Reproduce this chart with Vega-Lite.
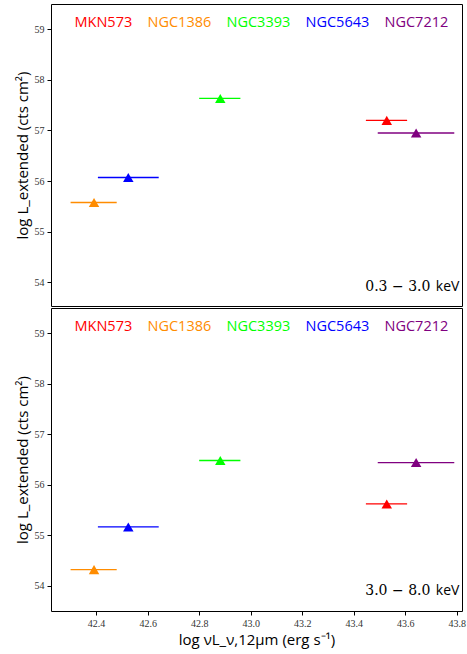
{
  "$schema": "https://vega.github.io/schema/vega-lite/v6.json",
  "padding": {"left": 14, "top": 3, "right": 0, "bottom": 5},
  "background": "white",
  "config": {
    "view": {"stroke": "black", "strokeWidth": 1},
    "axis": {
      "grid": false, "domain": false, "tickColor": "black", "tickSize": 4, "tickWidth": 1,
      "labelFont": "Liberation Serif", "labelFontSize": 10, "labelColor": "#333", "labelPadding": 3,
      "titleFont": "Open Sans", "titleFontSize": 15, "titleFontWeight": "normal", "titleColor": "black"
    },
    "legend": {
      "orient": "none", "direction": "horizontal", "title": null, "padding": 0,
      "symbolSize": 0, "symbolOpacity": 0, "symbolStrokeWidth": 0, "labelOffset": 0,
      "labelFont": "Open Sans", "labelFontSize": 14.5, "columnPadding": -2, "legendX": 9, "legendY": 12
    }
  },
  "datasets": {
    "pts": [
      {"band": "soft", "name": "MKN573", "x": 43.528, "xlo": 43.447, "xhi": 43.607, "y": 57.20},
      {"band": "soft", "name": "NGC1386", "x": 42.392, "xlo": 42.301, "xhi": 42.480, "y": 55.576},
      {"band": "soft", "name": "NGC3393", "x": 42.882, "xlo": 42.800, "xhi": 42.960, "y": 57.633},
      {"band": "soft", "name": "NGC5643", "x": 42.525, "xlo": 42.407, "xhi": 42.643, "y": 56.07},
      {"band": "soft", "name": "NGC7212", "x": 43.642, "xlo": 43.493, "xhi": 43.790, "y": 56.95},
      {"band": "hard", "name": "MKN573", "x": 43.528, "xlo": 43.447, "xhi": 43.607, "y": 55.62},
      {"band": "hard", "name": "NGC1386", "x": 42.392, "xlo": 42.301, "xhi": 42.480, "y": 54.32},
      {"band": "hard", "name": "NGC3393", "x": 42.882, "xlo": 42.800, "xhi": 42.960, "y": 56.48},
      {"band": "hard", "name": "NGC5643", "x": 42.525, "xlo": 42.407, "xhi": 42.643, "y": 55.165},
      {"band": "hard", "name": "NGC7212", "x": 43.642, "xlo": 43.493, "xhi": 43.790, "y": 56.44}
    ],
    "notes": [
      {"band": "soft", "num": "0.3 − 3.0", "unit": "keV"},
      {"band": "hard", "num": "3.0 − 8.0", "unit": "keV"}
    ]
  },
  "spacing": 0,
  "resolve": {"legend": {"color": "independent"}},
  "vconcat": [
    {
      "width": 411, "height": 302,
      "layer": [
        {
          "data": {"name": "pts"},
          "transform": [{"filter": "datum.band == 'soft'"}],
          "mark": {"type": "rule", "strokeWidth": 1.3},
          "encoding": {
            "x": {"field": "xlo", "type": "quantitative", "scale": {"domain": [42.225, 43.82], "nice": false, "zero": false}, "axis": null},
            "x2": {"field": "xhi"},
            "y": {"field": "y", "type": "quantitative", "scale": {"domain": [53.53, 59.5], "nice": false, "zero": false},
                  "axis": {"values": [54, 55, 56, 57, 58, 59], "format": "d", "title": "log L_extended (cts cm²)"}},
            "color": {"field": "name", "type": "nominal",
                      "scale": {"domain": ["MKN573", "NGC1386", "NGC3393", "NGC5643", "NGC7212"], "range": ["#ff0000", "#ff8c00", "#00ff00", "#0000ff", "#800080"]},
                      "legend": {"symbolSize": 0, "encode": {"symbols": {"update": {"size": {"value": 0}, "opacity": {"value": 0}}}, "labels": {"update": {"fill": {"scale": "color", "field": "value"}}}}}}
          }
        },
        {
          "data": {"name": "pts"},
          "transform": [{"filter": "datum.band == 'soft'"}],
          "mark": {"type": "point", "shape": "triangle-up", "filled": true, "size": 110, "opacity": 1},
          "encoding": {
            "x": {"field": "x", "type": "quantitative"},
            "y": {"field": "y", "type": "quantitative"},
            "color": {"field": "name", "type": "nominal"}
          }
        },
        {
          "data": {"name": "notes"},
          "transform": [{"filter": "datum.band == 'soft'"}],
          "mark": {"type": "text", "align": "right", "baseline": "middle", "font": "Open Sans", "fontSize": 14, "color": "black"},
          "encoding": {"x": {"datum": 43.81, "type": "quantitative"}, "y": {"datum": 53.9, "type": "quantitative"}, "text": {"field": "unit"}}
        },
        {
          "data": {"name": "notes"},
          "transform": [{"filter": "datum.band == 'soft'"}],
          "mark": {"type": "text", "align": "right", "baseline": "middle", "font": "DejaVu Serif", "fontSize": 14, "dx": -29, "color": "black"},
          "encoding": {"x": {"datum": 43.81, "type": "quantitative"}, "y": {"datum": 53.9, "type": "quantitative"}, "text": {"field": "num"}}
        }
      ]
    },
    {
      "width": 411, "height": 303,
      "layer": [
        {
          "data": {"name": "pts"},
          "transform": [{"filter": "datum.band == 'hard'"}],
          "mark": {"type": "rule", "strokeWidth": 1.3},
          "encoding": {
            "x": {"field": "xlo", "type": "quantitative", "scale": {"domain": [42.225, 43.82], "nice": false, "zero": false},
                  "axis": {"values": [42.4, 42.6, 42.8, 43.0, 43.2, 43.4, 43.6, 43.8], "format": ".1f", "title": "log νL_ν,12μm (erg s⁻¹)"}},
            "x2": {"field": "xhi"},
            "y": {"field": "y", "type": "quantitative", "scale": {"domain": [53.5, 59.5], "nice": false, "zero": false},
                  "axis": {"values": [54, 55, 56, 57, 58, 59], "format": "d", "title": "log L_extended (cts cm²)"}},
            "color": {"field": "name", "type": "nominal",
                      "scale": {"domain": ["MKN573", "NGC1386", "NGC3393", "NGC5643", "NGC7212"], "range": ["#ff0000", "#ff8c00", "#00ff00", "#0000ff", "#800080"]},
                      "legend": {"symbolSize": 0, "encode": {"symbols": {"update": {"size": {"value": 0}, "opacity": {"value": 0}}}, "labels": {"update": {"fill": {"scale": "color", "field": "value"}}}}}}
          }
        },
        {
          "data": {"name": "pts"},
          "transform": [{"filter": "datum.band == 'hard'"}],
          "mark": {"type": "point", "shape": "triangle-up", "filled": true, "size": 110, "opacity": 1},
          "encoding": {
            "x": {"field": "x", "type": "quantitative"},
            "y": {"field": "y", "type": "quantitative"},
            "color": {"field": "name", "type": "nominal"}
          }
        },
        {
          "data": {"name": "notes"},
          "transform": [{"filter": "datum.band == 'hard'"}],
          "mark": {"type": "text", "align": "right", "baseline": "middle", "font": "Open Sans", "fontSize": 14, "color": "black"},
          "encoding": {"x": {"datum": 43.81, "type": "quantitative"}, "y": {"datum": 53.9, "type": "quantitative"}, "text": {"field": "unit"}}
        },
        {
          "data": {"name": "notes"},
          "transform": [{"filter": "datum.band == 'hard'"}],
          "mark": {"type": "text", "align": "right", "baseline": "middle", "font": "DejaVu Serif", "fontSize": 14, "dx": -29, "color": "black"},
          "encoding": {"x": {"datum": 43.81, "type": "quantitative"}, "y": {"datum": 53.9, "type": "quantitative"}, "text": {"field": "num"}}
        }
      ]
    }
  ]
}
